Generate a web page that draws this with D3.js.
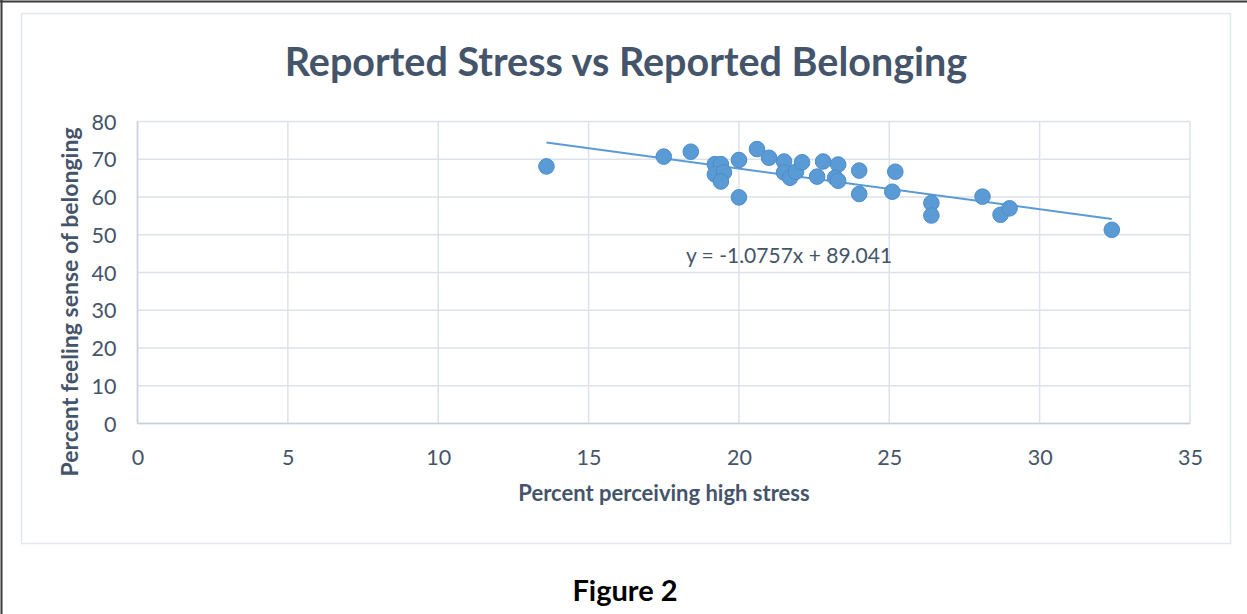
<!DOCTYPE html>
<html>
<head>
<meta charset="utf-8">
<script src="https://cdn.jsdelivr.net/npm/d3@7"></script>
<style>
  html, body { margin: 0; padding: 0; background: #fff; }
  svg { display: block; }
</style>
</head>
<body>
<svg id="chart" width="1247" height="614"></svg>
<script>
// Data
const stressPct = [13.6, 17.5, 18.4, 19.2, 19.4, 19.2, 19.5, 19.4, 20.0, 20.0,
  20.6, 21.0, 21.5, 21.5, 21.7, 21.9, 22.1, 22.6, 22.8, 23.3,
  23.2, 23.3, 24.0, 24.0, 25.1, 25.2, 26.4, 26.4, 28.1, 28.7, 29.0, 32.4];
const belongingPct = [68.1, 70.7, 72.0, 68.7, 68.7, 66.0, 66.5, 64.1, 69.8, 59.9,
  72.7, 70.4, 69.4, 66.5, 65.1, 66.7, 69.2, 65.4, 69.4, 68.6,
  65.1, 64.3, 67.0, 60.8, 61.4, 66.7, 58.4, 55.1, 60.1, 55.3, 57.0, 51.3];
const xTicks = [0, 5, 10, 15, 20, 25, 30, 35];
const yTicks = [0, 10, 20, 30, 40, 50, 60, 70, 80];
const trendSlope = -1.0757;
const trendIntercept = 89.041;

const textColor = '#44546a';
const gridColor = '#dde2ea';
const dotColor = '#5b9bd5';
const font = 'Lato, "Open Sans", sans-serif';

const svg = d3.select('#chart');

// Page frame (top and left edges only)
svg.append('line').attr('x1', 0).attr('x2', 1247).attr('y1', 1.5).attr('y2', 1.5)
  .attr('stroke', '#3a3a3a').attr('stroke-width', 2);
svg.append('line').attr('x1', 1.5).attr('x2', 1.5).attr('y1', 0).attr('y2', 614)
  .attr('stroke', '#3a3a3a').attr('stroke-width', 2);

// Chart area border
svg.append('rect')
  .attr('x', 21.5).attr('y', 13.5).attr('width', 1209).attr('height', 530)
  .attr('fill', 'none').attr('stroke', '#e4e8ee').attr('stroke-width', 1.5);

const margin = { left: 137.5, top: 121.5, right: 1190, bottom: 423.5 };

const x = d3.scaleLinear().domain([0, 35]).range([margin.left, margin.right]);
const y = d3.scaleLinear().domain([0, 80]).range([margin.bottom, margin.top]);

// Grid
const grid = svg.append('g').attr('class', 'grid');
grid.selectAll('.vgrid').data(xTicks).enter().append('line')
  .attr('class', 'vgrid')
  .attr('x1', d => x(d)).attr('x2', d => x(d))
  .attr('y1', y(80)).attr('y2', y(0))
  .attr('stroke', gridColor).attr('stroke-width', 1.5);
grid.selectAll('.hgrid').data(yTicks).enter().append('line')
  .attr('class', 'hgrid')
  .attr('x1', x(0)).attr('x2', x(35))
  .attr('y1', d => y(d)).attr('y2', d => y(d))
  .attr('stroke', gridColor).attr('stroke-width', 1.5);

// Axes lines (slightly darker)
svg.append('line').attr('x1', x(0)).attr('x2', x(35)).attr('y1', y(0)).attr('y2', y(0))
  .attr('stroke', '#c8cfda').attr('stroke-width', 1.5);
svg.append('line').attr('x1', x(0)).attr('x2', x(0)).attr('y1', y(80)).attr('y2', y(0))
  .attr('stroke', '#c8cfda').attr('stroke-width', 1.5);

// Axes (labels only)
const xAxis = d3.axisBottom(x).tickValues(xTicks).tickSize(0).tickPadding(0);
const yAxis = d3.axisLeft(y).tickValues(yTicks).tickSize(0).tickPadding(0);

const xAxisG = svg.append('g').attr('transform', `translate(0,${y(0) + 41})`).call(xAxis);
xAxisG.select('.domain').remove();
xAxisG.selectAll('text')
  .attr('dy', 0)
  .style('fill', textColor).style('font-family', font).style('font-size', '21.5px');

const yAxisG = svg.append('g').attr('transform', `translate(${x(0) - 21},0)`).call(yAxis);
yAxisG.select('.domain').remove();
yAxisG.selectAll('text')
  .attr('dy', '0.35em')
  .style('fill', textColor).style('font-family', font).style('font-size', '21.5px');

// Trendline
const xs = d3.extent(stressPct);
svg.append('line')
  .attr('x1', x(xs[0])).attr('y1', y(trendSlope * xs[0] + trendIntercept))
  .attr('x2', x(xs[1])).attr('y2', y(trendSlope * xs[1] + trendIntercept))
  .attr('stroke', dotColor).attr('stroke-width', 2);

// Points
svg.append('g').selectAll('circle')
  .data(stressPct.map((d, i) => [d, belongingPct[i]]))
  .enter().append('circle')
  .attr('cx', d => x(d[0])).attr('cy', d => y(d[1]))
  .attr('r', 7.8)
  .attr('fill', dotColor)
  .attr('stroke', '#4d8ccc').attr('stroke-width', 1);

// Equation label
svg.append('text')
  .attr('x', 789).attr('y', 263).attr('text-anchor', 'middle')
  .style('fill', textColor).style('font-family', font).style('font-size', '21px')
  .text(`y = ${trendSlope}x + ${trendIntercept}`);

// Title
svg.append('text')
  .attr('x', 626).attr('y', 76).attr('text-anchor', 'middle')
  .style('fill', textColor).style('font-family', font).style('font-size', '39.5px')
  .style('font-weight', 'bold')
  .text('Reported Stress vs Reported Belonging');

// Axis titles
svg.append('text')
  .attr('x', 664).attr('y', 501).attr('text-anchor', 'middle')
  .style('fill', textColor).style('font-family', font).style('font-size', '22px')
  .style('font-weight', 'bold')
  .text('Percent perceiving high stress');

svg.append('text')
  .attr('transform', 'translate(78,302) rotate(-90)').attr('text-anchor', 'middle')
  .style('fill', textColor).style('font-family', font).style('font-size', '23px')
  .style('font-weight', 'bold')
  .text('Percent feeling sense of belonging');

// Figure caption
svg.append('text')
  .attr('x', 625).attr('y', 601).attr('text-anchor', 'middle')
  .style('fill', '#000').style('font-family', font).style('font-size', '29px')
  .style('font-weight', 'bold')
  .text('Figure 2');
</script>
</body>
</html>
